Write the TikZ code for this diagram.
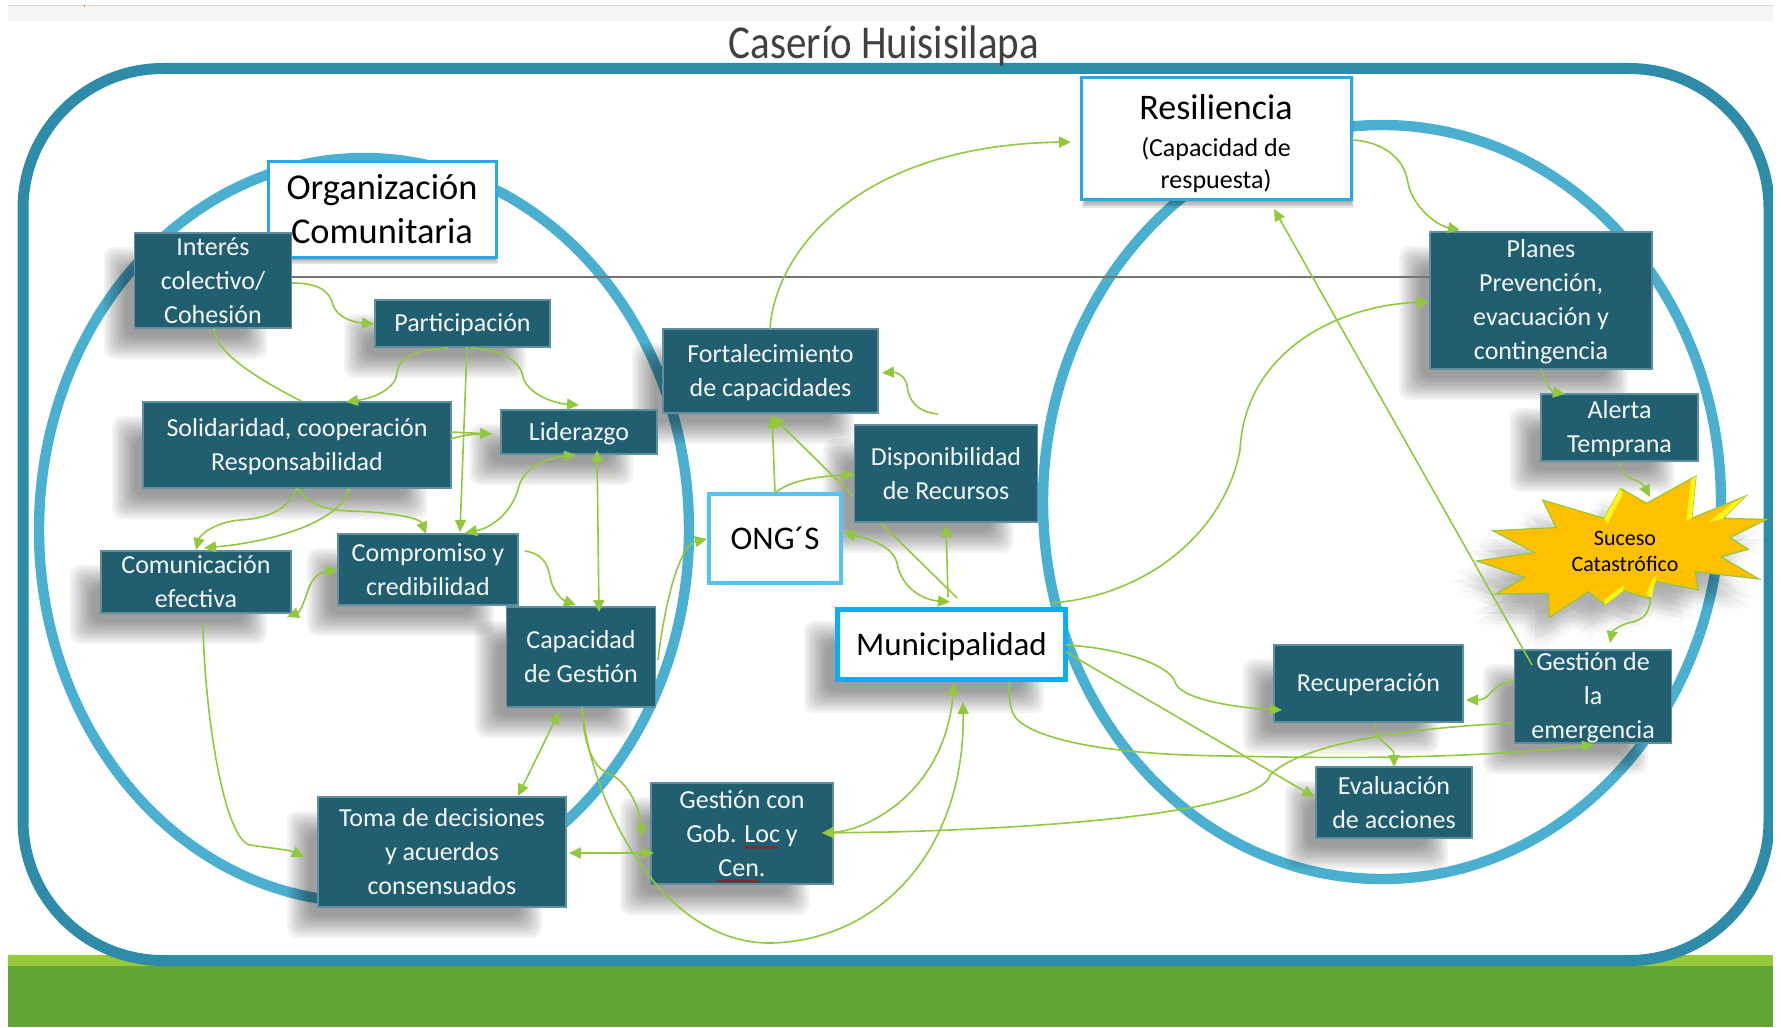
\documentclass[tikz,border=0pt]{standalone}
\usepackage{graphicx}
\usepackage{fontspec}
\setmainfont{Carlito}
\usetikzlibrary{arrows.meta,decorations.pathmorphing}
\definecolor{tealbox}{HTML}{205E70}
\definecolor{tealedge}{HTML}{5F8F9E}
\definecolor{frameblue}{HTML}{2F8CA8}
\definecolor{ringblue}{HTML}{4BB0CF}
\definecolor{linkgreen}{HTML}{92C83E}
\definecolor{grasslight}{HTML}{97C93A}
\definecolor{grassdark}{HTML}{63A537}
\definecolor{whiteedge}{HTML}{2AA8E6}
\definecolor{ongedge}{HTML}{55C2F8}
\definecolor{muniedge}{HTML}{0BAEF5}
\definecolor{stargold}{HTML}{FFC000}
\newcommand{\boxshad}[4]{%
  \foreach \i in {0,...,9}{%
    \fill[black,fill opacity=.046,rounded corners=5pt]
      ({#1-31+2.4*\i},{#2+14+2.4*\i}) rectangle ({#3-24-2.4*\i},{#4+31-2.4*\i});
  }%
}
\newcommand{\thinshad}[4]{%
  \foreach \i in {0,...,3}{%
    \fill[black,fill opacity=.09]
      ({#1+2+\i},{#2}) rectangle ({#3+1-\i},{#4+7-1.5*\i});
  }%
}
\newcommand{\starshape}[1]{%
  \path[#1] (50,303) -- (225,278) -- (98,212) -- (288,203) -- (248,120) -- (432,175) -- (482,85) -- (560,130) -- (708,48) -- (695,175) -- (857,108) -- (790,175) -- (920,178) -- (810,233) -- (865,268) -- (782,290) -- (897,357) -- (705,335) -- (715,390) -- (590,365) -- (565,415) -- (490,392) -- (435,435) -- (385,395) -- (268,473) -- (265,400) -- (108,402) -- (195,352) -- cycle;%
}
\tikzset{
  px/.style 2 args={minimum width=#1*.5pt,minimum height=#2*.5pt},
  low/.style={text depth=1pt},
  darkbox/.style={draw=tealedge,fill=tealbox,line width=.7pt,text=white!95!tealbox,align=center,inner sep=0pt,
    font=\fontsize{13pt}{17pt}\selectfont},
  paperbox/.style={draw=whiteedge,fill=white,line width=1.5pt,text=black,align=center,inner sep=0pt},
  ongbox/.style={draw=ongedge,fill=white,line width=2.2pt,text=black,align=center,inner sep=0pt,font=\fontsize{16.5pt}{20pt}\selectfont},
  munibox/.style={draw=muniedge,fill=white,line width=2.5pt,text=black,align=center,inner sep=0pt,font=\fontsize{16.5pt}{20pt}\selectfont},
  link/.style={draw=linkgreen,line width=.8pt,>={Triangle[length=6pt,width=5.5pt]}},
}
\begin{document}
\begin{tikzpicture}[x=.5pt,y=-.5pt]
\useasboundingbox (0,0) rectangle (1781,1027);
% page strips
\fill[gray!8] (8,5) rectangle (1773,21);
\fill[gray!30] (8,5) rectangle (1773,6.5);
\fill[orange!90!red] (83.5,5) rectangle (85,7);
\fill[grasslight] (8,955) rectangle (1773,966);
\fill[grassdark] (8,966) rectangle (1773,1027);
% frame and rings
\draw[frameblue,line width=5.5pt,rounded corners=70pt] (23,68.5) rectangle (1769,960.5);
\draw[ringblue,line width=5.2pt] (364,530) ellipse [x radius=162.5pt,y radius=186pt];
\draw[ringblue,line width=5.2pt] (1382,502) ellipse [x radius=169.5pt,y radius=188.5pt];
% title
\node[anchor=base,text=black!75,font=\fontsize{20.5pt}{24pt}\selectfont] (Titulo) at (884,59) {\scalebox{1}[1.15]{Caserío Huisisilapa}};
% shadows
\boxshad{134.5}{233}{291}{328}
\boxshad{375}{300}{550}{347}
\boxshad{143}{402}{451}{488}
\boxshad{500.5}{410}{657}{454}
\boxshad{663}{329}{878}{413}
\boxshad{854}{425}{1037.5}{522}
\boxshad{835}{607}{1068}{682}
\boxshad{101}{551}{291}{613}
\boxshad{338}{534}{518}{605}
\boxshad{506}{607}{655.5}{707}
\boxshad{318}{797}{566}{907}
\boxshad{651}{783}{833}{884}
\boxshad{1430}{232}{1652}{369}
\boxshad{1541}{394}{1698}{461}
\boxshad{1274}{645}{1463}{722}
\boxshad{1514}{650}{1671.5}{743}
\boxshad{1316}{767}{1472}{838}
\thinshad{267}{162}{497}{257}
\thinshad{1080}{77}{1352.5}{201}
% star
\foreach \r in {5,10,15}{
\foreach \a in {0,45,...,315}{
  \begin{scope}[shift={({1460-14+\r*cos(\a)},{460+20+\r*sin(\a)})},x=.1666667pt,y=-.1666667pt]
    \starshape{fill=black,fill opacity=.016}
  \end{scope}
}}
\begin{scope}[shift={(1460,460)},x=.1666667pt,y=-.1666667pt]
  \starshape{fill=stargold,draw=linkgreen,line width=.6pt}
  \fill[yellow!90!white] (432,175) -- (482,85) -- (488,105) -- (442,192) -- cycle;
  \fill[yellow!90!white] (708,48) -- (695,175) -- (678,183) -- (692,60) -- cycle;
  \fill[yellow!90!white] (857,108) -- (790,175) -- (745,188) -- (815,130) -- cycle;
  \fill[yellow!90!white] (590,345) -- (575,412) -- (557,405) -- (578,355) -- cycle;
  \fill[yellow!90!white] (490,375) -- (490,392) -- (435,435) -- (432,420) -- cycle;
\end{scope}
\node[text=black,align=center,inner sep=0pt,font=\fontsize{11pt}{13pt}\selectfont] (Star) at (1625,551.5) {Suceso\\Catastrófico};
% boxes
\node[paperbox,px={228}{95},font=\fontsize{18.2pt}{22pt}\selectfont] (Org) at (382,209.5) {Organización\\Comunitaria};
\node[darkbox,px={157}{95}] (Int) at (213,280.5) {Interés\\colectivo/\\Cohesión};
\node[darkbox,low,px={175}{47}] (Part) at (462.5,323.5) {Participación};
\node[darkbox,low,px={308}{86}] (Solid) at (297,445) {Solidaridad, cooperación\\Responsabilidad};
\node[darkbox,low,px={156}{44}] (Lider) at (579,432) {Liderazgo};
\node[darkbox,low,px={215}{84}] (Fort) at (770.5,371) {Fortalecimiento\\de capacidades};
\node[ongbox,px={132}{89}] (ONG) at (775,538.5) {ONG´S};
\node[munibox,px={228}{70},text depth=0pt] (Muni) at (951.5,644.5) {Municipalidad};
\node[darkbox,px={190}{62}] (Comu) at (196,582) {Comunicación\\efectiva};
\node[darkbox,px={180}{71}] (Comp) at (428,569.5) {Compromiso y\\credibilidad};
\node[darkbox,px={149}{100}] (Capa) at (581,657) {Capacidad\\de Gestión};
\node[darkbox,px={248}{110}] (Toma) at (442,852) {Toma de decisiones\\y acuerdos\\consensuados};
\node[darkbox,px={182}{101}] (GCon) at (742,833.5) {Gestión con\\Gob. Loc y\\Cen.};
\node[paperbox,px={270}{122},font=\fontsize{13pt}{16pt}\selectfont] (Resi) at (1216,139) {{\fontsize{18pt}{19pt}\selectfont\rule{0pt}{17pt}Resiliencia}\\[2.5pt](Capacidad de\\respuesta)};
\node[darkbox,low,px={222}{137}] (Plan) at (1541,300.5) {Planes\\Prevención,\\evacuación y\\contingencia};
\node[darkbox,low,px={157}{67}] (Aler) at (1619.5,427.5) {Alerta\\Temprana};
\node[darkbox,low,px={189}{77}] (Recu) at (1368.5,683.5) {Recuperación};
\node[darkbox,low,px={157}{93}] (GEme) at (1593,696.5) {Gestión de\\la\\emergencia};
\node[darkbox,px={156}{71}] (Eval) at (1394,802.5) {Evaluación\\de acciones};
% spell-check marks
\draw[red!80!black,line width=.4pt,decorate,decoration={zigzag,segment length=2pt,amplitude=.6pt}] (743,847.5) -- (778,847.5);
\draw[red!80!black,line width=.4pt,decorate,decoration={zigzag,segment length=2pt,amplitude=.6pt}] (718,881) -- (759,881);
% long rule and the link that runs behind Disponibilidad
\coordinate (ruleY) at (0,277);
\draw[black!55,line width=.6pt] (Int.east |- ruleY) -- (Plan.west |- ruleY);
\draw[link,->] ([shift={(5.5,-46.5)}]Muni.center) -- ([shift={(1.5,45)}]Fort.center);
\node[darkbox,px={183}{97}] (Disp) at (946,473.5) {Disponibilidad\\de Recursos};
% connectors
\draw[link,->] ([shift={(79,2.5)}]Int.center) .. controls (320,283) and (330,292) .. (333,305) .. controls (337,316) and (350,322) .. ([shift={(-88.5,.5)}]Part.center);
\draw[link] ([shift={(1,47.5)}]Int.center) .. controls (214,350) and (250,375) .. ([shift={(4,-44)}]Solid.center);
\draw[link,->] ([shift={(-14.5,24.5)}]Part.center) .. controls (410,350) and (398,360) .. (397,373) .. controls (396,388) and (375,398) .. ([shift={(49,-43)}]Solid.center);
\draw[link,->] ([shift={(8.5,24.5)}]Part.center) .. controls (500,350) and (520,360) .. (523,377) .. controls (527,392) and (550,403) .. ([shift={(0,-27)}]Lider.center);
\draw[link,->] ([shift={(4.5,23.5)}]Part.center) -- ([shift={(32,-37.5)}]Comp.center);
\draw[link,->] ([shift={(154,-13)}]Solid.center) -- ([shift={(-87,2)}]Lider.center);
\draw[link] ([shift={(154,-6)}]Solid.center) .. controls (465,434) and (478,434) .. ([shift={(-87,2)}]Lider.center);
\draw[link,->] ([shift={(0,43)}]Solid.center) .. controls (290,505) and (275,518) .. (240,520) .. controls (215,522) and (200,535) .. ([shift={(0,-32)}]Comu.center);
\draw[link,->] ([shift={(52,43)}]Solid.center) .. controls (345,515) and (290,540) .. ([shift={(8,-34)}]Comu.center);
\draw[link,->] ([shift={(0,43)}]Solid.center) .. controls (310,505) and (325,510) .. (350,511) .. controls (390,512) and (420,518) .. ([shift={(-2,-35.5)}]Comp.center);
\draw[link,<->] ([shift={(91,35)}]Comu.center) .. controls (300,612) and (305,600) .. (308,590) .. controls (312,578) and (320,572) .. ([shift={(-90,.5)}]Comp.center);
\draw[link,->] ([shift={(97,-18.5)}]Comp.center) .. controls (540,553) and (548,562) .. (550,577) .. controls (552,590) and (562,600) .. ([shift={(-5,-52)}]Capa.center);
\draw[link,<->] ([shift={(18,18)}]Lider.center) -- ([shift={(18,-45)}]Capa.center);
\draw[link,<->] ([shift={(37,-36.5)}]Comp.center) .. controls (490,528) and (510,515) .. (518,490) .. controls (522,468) and (545,458) .. ([shift={(-3,23)}]Lider.center);
\draw[link,->] ([shift={(77,3)}]Capa.center) .. controls (665,600) and (680,545) .. ([shift={(-68,.5)}]ONG.center);
\draw[link,->] ([shift={(7,43)}]Comu.center) .. controls (205,720) and (225,840) .. (250,845) .. controls (270,848) and (290,850) .. ([shift={(-138,5)}]Toma.center);
\draw[link,<->] ([shift={(-22,55)}]Capa.center) -- ([shift={(76,-56)}]Toma.center);
\draw[link,->] ([shift={(1,50)}]Capa.center) .. controls (584,750) and (595,770) .. (612,775) .. controls (630,785) and (640,810) .. ([shift={(-100,3.5)}]GCon.center);
\draw[link,->] ([shift={(1,50)}]Capa.center) .. controls (590,800) and (660,945) .. (772,943) .. controls (880,940) and (965,850) .. ([shift={(11.5,57.5)}]Muni.center);
\draw[link,<->] ([shift={(80,-.5)}]GCon.center) .. controls (870,830) and (945,790) .. ([shift={(2.5,38.5)}]Muni.center);
\draw[link,->] ([shift={(-79,26.5)}]GEme.center) .. controls (1400,728) and (1300,745) .. (1270,775) .. controls (1265,800) and (1150,825) .. (890,832) -- ([shift={(80,-.5)}]GCon.center);
\draw[link,->] ([shift={(57.5,37.5)}]Muni.center) .. controls (1009,705) and (1011,715) .. (1020,722) .. controls (1040,738) and (1100,755) .. (1230,756) .. controls (1400,760) and (1500,755) .. ([shift={(1,48.5)}]GEme.center);
\draw[link,->] ([shift={(114.5,.5)}]Muni.center) .. controls (1120,648) and (1170,665) .. (1175,682) .. controls (1180,700) and (1240,708) .. ([shift={(-86.5,26.5)}]Recu.center);
\draw[link,->] ([shift={(114.5,7.5)}]Muni.center) -- ([shift={(-79.5,-5.5)}]Eval.center);
\draw[link,->] ([shift={(0,-45.5)}]ONG.center) -- ([shift={(1.5,45)}]Fort.center);
\draw[link,->] ([shift={(0,-45.5)}]ONG.center) .. controls (790,480) and (820,476) .. ([shift={(-91,1.5)}]Disp.center);
\draw[link,->] ([shift={(-3.5,-47.5)}]Muni.center) -- ([shift={(0,51.5)}]Disp.center);
\draw[link,<->] ([shift={(68,-5.5)}]ONG.center) .. controls (875,540) and (893,548) .. (897,563) .. controls (902,590) and (925,600) .. ([shift={(-1.5,-42.5)}]Muni.center);
\draw[link,->] ([shift={(-8,-59.5)}]Disp.center) .. controls (915,412) and (908,398) .. (907,385) .. controls (905,375) and (895,372) .. ([shift={(111.5,2)}]Fort.center);
\draw[link,->] ([shift={(-.5,-42)}]Fort.center) .. controls (775,250) and (860,145) .. ([shift={(-145,3)}]Resi.center);
\draw[link,->] ([shift={(136.5,1)}]Resi.center) .. controls (1385,142) and (1405,160) .. (1408,183) .. controls (1412,205) and (1435,225) .. ([shift={(-81,-70.5)}]Plan.center);
\draw[link,->] ([shift={(100.5,-41.5)}]Muni.center) .. controls (1150,595) and (1225,530) .. (1240,450) .. controls (1245,350) and (1340,305) .. ([shift={(-112,1.5)}]Plan.center);
\draw[link,->] ([shift={(0,68.5)}]Plan.center) .. controls (1544,382) and (1552,392) .. ([shift={(-54.5,-33.5)}]Aler.center);
\draw[link,->] ([shift={(-.5,34.5)}]Aler.center) .. controls (1622,482) and (1640,478) .. ([shift={(25,-54.5)}]Star.center);
\draw[link,->] ([shift={(25,46.5)}]Star.center) .. controls (1650,612) and (1645,620) .. (1628,623) .. controls (1618,626) and (1612,632) .. ([shift={(17,-53.5)}]GEme.center);
\draw[link,->] ([shift={(-79,-15.5)}]GEme.center) .. controls (1490,683) and (1492,700) .. ([shift={(97.5,16.5)}]Recu.center);
\draw[link,->] ([shift={(6.5,41.5)}]Recu.center) .. controls (1377,745) and (1394,745) .. ([shift={(0,-35.5)}]Eval.center);
\draw[link,->] ([shift={(-61,-31.5)}]GEme.center) -- ([shift={(58,70)}]Resi.center);
\draw[link,<->] ([shift={(127,1)}]Toma.center) -- ([shift={(-88,19.5)}]GCon.center);
% right-hand crop
\fill[white] (1773,0) rectangle (1781,1027);
\end{tikzpicture}
\end{document}
